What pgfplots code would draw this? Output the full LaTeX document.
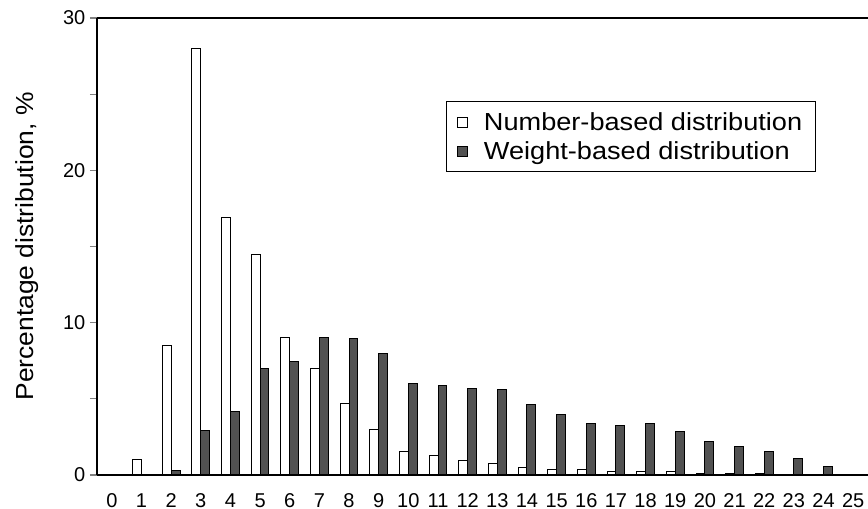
\documentclass[border=0pt]{standalone}
\usepackage{fontspec}
\setmainfont{Liberation Sans}
\newfontfamily\legfont[FakeStretch=1.1]{Liberation Sans}
\newfontfamily\labfont[FakeStretch=1.07]{Liberation Sans}
\usepackage{pgfplots}
\pgfplotsset{compat=1.18}
\definecolor{darkbar}{gray}{0.32}
\pgfplotstableread{
x y
1 1.0
2 8.5
3 28.0
4 16.9
5 14.5
6 9.0
7 7.0
8 4.7
9 3.0
10 1.55
11 1.27
12 0.96
13 0.77
14 0.5
15 0.33
16 0.33
17 0.24
18 0.25
19 0.2
20 0.12
21 0.1
22 0.1
23 0.03
24 0.05
}\numberdata
\pgfplotstableread{
x y
2 0.3
3 2.9
4 4.2
5 7.0
6 7.45
7 9.0
8 8.97
9 7.95
10 6.0
11 5.9
12 5.7
13 5.63
14 4.6
15 3.96
16 3.4
17 3.26
18 3.38
19 2.86
20 2.2
21 1.87
22 1.52
23 1.06
24 0.58
}\weightdata
\begin{document}
\begin{tikzpicture}
\begin{axis}[
  scale only axis,
  width=578.25pt, height=342.75pt,
  xmin=-0.5, xmax=25.5,
  ymin=0, ymax=30,
  axis lines*=left,
  axis line style={line width=1.5pt},
  ybar=0pt, bar width=0.3,
  xtick={0,...,25},
  xtick style={draw=none},
  ytick={0,10,20,30},
  minor ytick={5,15,25},
  tick align=outside,
  major tick length=5.25pt, minor tick length=5.25pt,
  ytick style={line width=0.8pt},
  tick label style={font=\fontsize{15}{15}\selectfont},
  /pgf/number format/assume math mode=true,
  xticklabel style={anchor=base, yshift=-19pt, inner ysep=0.5pt},
  ylabel={Percentage distribution, \%},
  ylabel style={font=\labfont\fontsize{18.5}{18.5}\selectfont,
    at={(rel axis cs:0,0.5)}, anchor=center, yshift=52.5pt},
  legend style={at={(rel axis cs:0.4527,0.8184)}, anchor=north west,
    draw=black, line width=0.75pt, font=\legfont\fontsize{18.5}{18.5}\selectfont,
    inner xsep=8pt, inner ysep=6pt, row sep=3pt,
    /tikz/every odd column/.append style={column sep=10pt},
    legend cell align=left},
  clip=false,
]
\addplot[draw=black, fill=white, line width=0.75pt,
  legend image code/.code={\draw[black, fill=white, line width=0.6pt] (0pt,-3.75pt) rectangle (7.5pt,3.75pt);}]
  table[x=x,y=y] {\numberdata};
\addlegendentry{Number-based distribution}
\addplot[draw=black, fill=darkbar, line width=0.75pt,
  legend image code/.code={\draw[black, fill=darkbar, line width=0.6pt] (0pt,-3.75pt) rectangle (7.5pt,3.75pt);}]
  table[x=x,y=y] {\weightdata};
\addlegendentry{Weight-based distribution}
\draw[line width=1.5pt] (rel axis cs:0,1) -- (rel axis cs:1,1);
\coordinate (o) at (rel axis cs:0,0);
\end{axis}
\pgfresetboundingbox
\path ([shift={(-72.75pt,-25.5pt)}]o) rectangle ([shift={(578.25pt,356.25pt)}]o);
\end{tikzpicture}
\end{document}
